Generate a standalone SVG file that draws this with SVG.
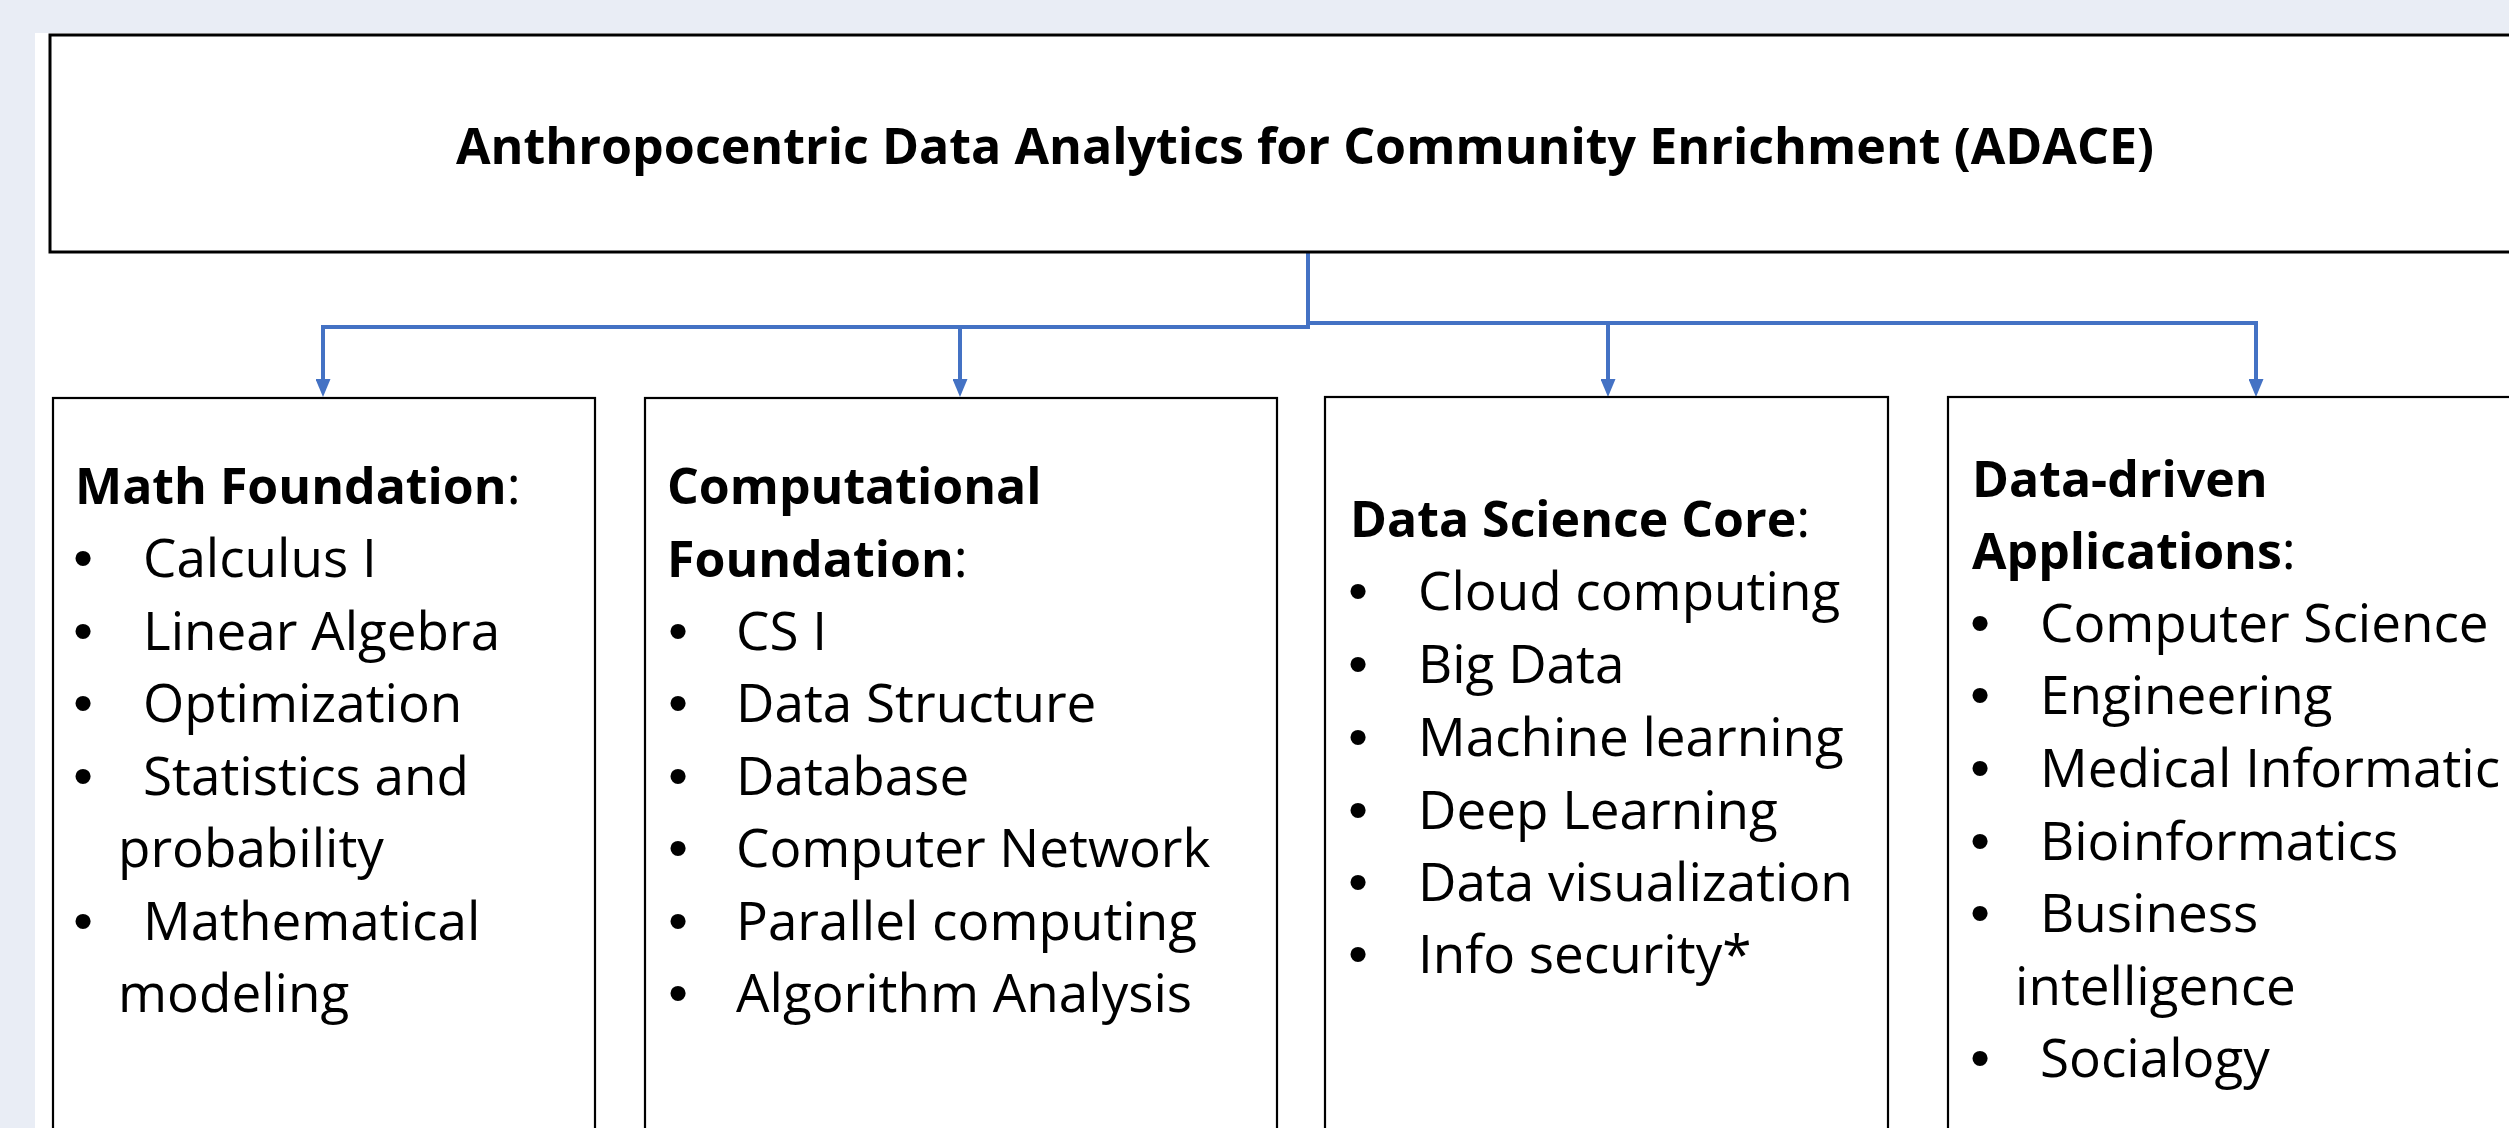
<svg xmlns="http://www.w3.org/2000/svg" width="2509" height="1128" viewBox="0 0 2509 1128">
<defs>
<style>
.box{fill:#ffffff;stroke:#000000;stroke-width:2.2}
.top{fill:#ffffff;stroke:#000000;stroke-width:3}
.conn{fill:none;stroke:#4472C4;stroke-width:4}
.t{font-family:'Open Sans','Liberation Sans',sans-serif;font-size:53px;fill:#000000}
.h{font-family:'Open Sans','Liberation Sans',sans-serif;font-size:50px;font-weight:bold;fill:#000000}
.c{font-size:53px;font-weight:normal}
.b{font-family:'Liberation Sans',Arial,sans-serif;font-size:56px;fill:#000000;text-anchor:middle}
</style>
<marker id="arr" markerUnits="userSpaceOnUse" markerWidth="18" markerHeight="15" refX="6" refY="7.5" orient="auto">
<path d="M0,0 L18,7.5 L0,15 z" fill="#4472C4"/>
</marker>
</defs>
<rect x="0" y="0" width="2509" height="1128" fill="#E9EDF5"/>
<rect x="35" y="33" width="2474" height="1095" fill="#ffffff"/>

<g id="connectors">
<path class="conn" d="M1308 252 V327"/>
<path class="conn" d="M1310 327 H323 V385" marker-end="url(#arr)"/>
<path class="conn" d="M1310 327 H960 V385" marker-end="url(#arr)"/>
<path class="conn" d="M1306 323 H1608 V385" marker-end="url(#arr)"/>
<path class="conn" d="M1306 323 H2256 V385" marker-end="url(#arr)"/>
</g>

<g id="root">
<rect class="top" x="50" y="35" width="2500" height="217"/>
<text class="h" x="456" y="164" font-size="52" textLength="1698" lengthAdjust="spacingAndGlyphs">Anthropocentric Data Analytics for Community Enrichment (ADACE)</text>
</g>

<g id="math">
<rect class="box" x="53" y="398" width="542" height="760"/>
<text class="h" x="75" y="504">Math Foundation<tspan class="c">:</tspan></text>
<text class="b" x="83" y="577">•</text><text class="t" x="143" y="577">Calculus I</text>
<text class="b" x="83" y="650">•</text><text class="t" x="143" y="650">Linear Algebra</text>
<text class="b" x="83" y="722">•</text><text class="t" x="143" y="722">Optimization</text>
<text class="b" x="83" y="795">•</text><text class="t" x="143" y="795">Statistics and</text>
<text class="t" x="118" y="867">probability</text>
<text class="b" x="83" y="940">•</text><text class="t" x="143" y="940">Mathematical</text>
<text class="t" x="118" y="1012">modeling</text>
</g>

<g id="computational">
<rect class="box" x="645" y="398" width="632" height="760"/>
<text class="h" x="667" y="504">Computational</text>
<text class="h" x="667" y="577">Foundation<tspan class="c">:</tspan></text>
<text class="b" x="678" y="650">•</text><text class="t" x="736" y="650">CS I</text>
<text class="b" x="678" y="722">•</text><text class="t" x="736" y="722">Data Structure</text>
<text class="b" x="678" y="795">•</text><text class="t" x="736" y="795">Database</text>
<text class="b" x="678" y="867">•</text><text class="t" x="736" y="867">Computer Network</text>
<text class="b" x="678" y="940">•</text><text class="t" x="736" y="940">Parallel computing</text>
<text class="b" x="678" y="1012">•</text><text class="t" x="736" y="1012">Algorithm Analysis</text>
</g>

<g id="datasciencecore">
<rect class="box" x="1325" y="397" width="563" height="760"/>
<text class="h" x="1350" y="537">Data Science Core<tspan class="c">:</tspan></text>
<text class="b" x="1358" y="610">•</text><text class="t" x="1418" y="610">Cloud computing</text>
<text class="b" x="1358" y="683">•</text><text class="t" x="1418" y="683">Big Data</text>
<text class="b" x="1358" y="756">•</text><text class="t" x="1418" y="756">Machine learning</text>
<text class="b" x="1358" y="829">•</text><text class="t" x="1418" y="829">Deep Learning</text>
<text class="b" x="1358" y="901">•</text><text class="t" x="1418" y="901">Data visualization</text>
<text class="b" x="1358" y="973">•</text><text class="t" x="1418" y="973">Info security*</text>
</g>

<g id="applications">
<rect class="box" x="1948" y="397" width="600" height="760"/>
<text class="h" x="1972" y="497">Data-driven</text>
<text class="h" x="1972" y="569">Applications<tspan class="c">:</tspan></text>
<text class="b" x="1980" y="642">•</text><text class="t" x="2040" y="642">Computer Science</text>
<text class="b" x="1980" y="714">•</text><text class="t" x="2040" y="714">Engineering</text>
<text class="b" x="1980" y="787">•</text><text class="t" x="2040" y="787">Medical Informatic</text>
<text class="b" x="1980" y="860">•</text><text class="t" x="2040" y="860">Bioinformatics</text>
<text class="b" x="1980" y="932">•</text><text class="t" x="2040" y="932">Business</text>
<text class="t" x="2015" y="1005">intelligence</text>
<text class="b" x="1980" y="1077">•</text><text class="t" x="2040" y="1077">Socialogy</text>
</g>
</svg>
